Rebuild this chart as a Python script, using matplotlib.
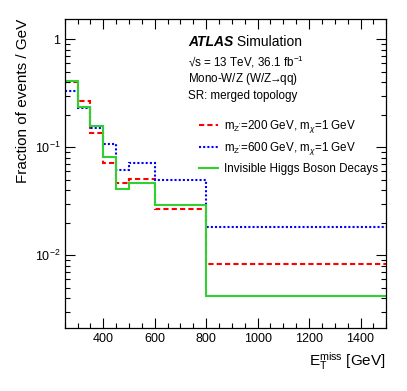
import matplotlib
matplotlib.use("Agg")
import matplotlib.pyplot as plt
from matplotlib.ticker import MultipleLocator, LogLocator, NullFormatter, FuncFormatter
import numpy as np

plt.rcParams['font.family'] = ['Liberation Sans', 'DejaVu Sans']
plt.rcParams['mathtext.fontset'] = 'custom'
plt.rcParams['mathtext.rm'] = 'Liberation Sans'
plt.rcParams['mathtext.it'] = 'Liberation Sans:italic'
plt.rcParams['mathtext.bf'] = 'Liberation Sans:bold'
plt.rcParams['mathtext.sf'] = 'Liberation Sans'

# Data
bin_edges = [250, 300, 350, 400, 450, 500, 600, 800, 1500]
zp200 = [0.405, 0.268, 0.134, 0.0721, 0.0468, 0.0509, 0.0267, 0.00826]
zp600 = [0.330, 0.228, 0.151, 0.106, 0.0612, 0.0721, 0.0492, 0.0184]
higgs = [0.411, 0.233, 0.158, 0.0813, 0.0411, 0.0468, 0.0290, 0.00417]

labels = [r"m$_{\mathrm{Z'}}$=200 GeV, m$_{\chi}$=1 GeV",
          r"m$_{\mathrm{Z'}}$=600 GeV, m$_{\chi}$=1 GeV",
          "Invisible Higgs Boson Decays"]

fig = plt.figure(figsize=(4.07, 3.91), dpi=100)
ax = fig.add_axes([0.159, 0.160, 0.790, 0.791])

lw = 1.5
ax.stairs(zp200, bin_edges, color='#ff0000', lw=lw, ls=(0, (2.5, 1.5)), label=labels[0], baseline=None)
ax.stairs(zp600, bin_edges, color='#0000ff', lw=lw, ls=(0, (1, 1)), label=labels[1], baseline=None)
ax.stairs(higgs, bin_edges, color='#30d030', lw=lw, ls='-', label=labels[2], baseline=None)

ax.set_yscale('log')
ax.set_xlim(250, 1500)
ax.set_ylim(0.0021, 1.53)

def yfmt(v, pos):
    n = int(round(np.log10(v)))
    if n == 0:
        return "1"
    return r"$10^{%d}$" % n

ax.xaxis.set_major_locator(MultipleLocator(200))
ax.xaxis.set_minor_locator(MultipleLocator(50))
ax.yaxis.set_major_locator(LogLocator(base=10, numticks=10))
ax.yaxis.set_major_formatter(FuncFormatter(yfmt))
ax.yaxis.set_minor_locator(LogLocator(base=10, subs=np.arange(2, 10), numticks=20))
ax.yaxis.set_minor_formatter(NullFormatter())

ax.tick_params(which='both', direction='in', top=True, right=True, labelsize=9, pad=3)
ax.tick_params(which='major', length=7.2, width=0.8)
ax.tick_params(which='minor', length=3.6, width=0.8)
for s in ax.spines.values():
    s.set_linewidth(0.9)

ax.set_ylabel("Fraction of events / GeV", fontsize=11, loc='top')
ax.yaxis.set_label_coords(-0.108, 1.0)
ax.set_xlabel(r"E$_{\mathrm{T}}^{\mathrm{miss}}$ [GeV]", fontsize=11, loc='right')
ax.xaxis.set_label_coords(1.0, -0.07)

t = ax.text(0.383, 0.9265, "ATLAS", transform=ax.transAxes, fontsize=10,
            fontweight='bold', fontstyle='italic', va='center', ha='left')
ax.annotate(" Simulation", xy=(1, 0), xycoords=t, fontsize=10, va='bottom', ha='left')
ax.text(0.383, 0.862, "√s = 13 TeV, 36.1 fb$^{-1}$", transform=ax.transAxes, fontsize=8.4, va='center')
ax.text(0.383, 0.807, r"Mono-W/Z (W/Z$\!\!\rightarrow\!\!$qq)", transform=ax.transAxes, fontsize=8.4, va='center')
ax.text(0.383, 0.752, "SR: merged topology", transform=ax.transAxes, fontsize=8.4, va='center')

ax.legend(loc='upper left', bbox_to_anchor=(0.418, 0.68), frameon=False, fontsize=8.4,
          handlelength=1.6, handletextpad=0.5, labelspacing=0.45, borderpad=0, borderaxespad=0)

fig.savefig("out.png", dpi=100)
